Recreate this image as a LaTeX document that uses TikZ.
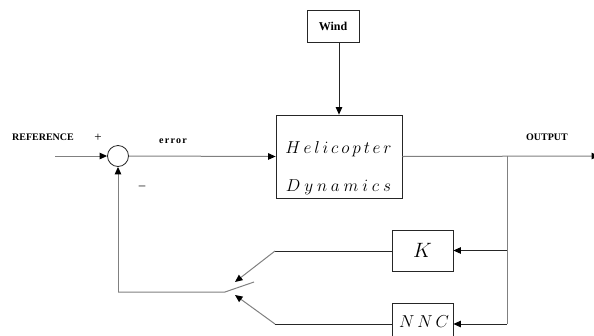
\documentclass[tikz,border=0pt]{standalone}
\usepackage{fontspec}
\setmainfont{Liberation Serif}
\usetikzlibrary{arrows.meta,calc}
\begin{document}
\begin{tikzpicture}[x=1pt,y=-1pt,
  blk/.style={draw=black!85,line width=0.8pt,rectangle,inner sep=0pt,anchor=center},
  gline/.style={draw=black!50,line width=1pt},
  bline/.style={draw=black!85,line width=0.8pt},
  tip/.style={-{Triangle[length=7.5pt,width=6.5pt,black]}},
  lbl/.style={font=\bfseries\fontsize{10}{12}\selectfont,inner sep=0pt}]
\useasboundingbox (0,0) rectangle (594,335);
\clip (0,0) rectangle (594,335);
% blocks
\node[blk,minimum width=52pt,minimum height=32pt,font=\bfseries\fontsize{12}{14}\selectfont] (wind) at (333,26) {Wind};
\node[blk,minimum width=126pt,minimum height=83pt] (heli) at (339,156.5) {};
\node[inner sep=0pt,font=\fontsize{16}{18}\selectfont] (t1) at (338.5,149) {$H\,e\,l\,i\,c\,o\,p\,t\,e\,r$};
\node[inner sep=0pt,font=\fontsize{16}{18}\selectfont] (t2) at (338.5,187) {$D\:y\:n\:a\:m\:i\:c\:s$};
\node[blk,minimum width=61pt,minimum height=41pt,font=\fontsize{21}{24}\selectfont] (K) at (422.5,250.5) {$K$};
\node[blk,minimum width=61pt,minimum height=41pt] (nnc) at (422.5,323.5) {};
\node[inner sep=0pt,font=\fontsize{16}{18}\selectfont] (nnct) at (424,322) {$N\,N\,C$};
\node[draw=black!85,line width=0.8pt,circle,minimum size=21pt,inner sep=0pt] (sum) at (118,156) {};
% coordinates
\coordinate (in) at (55,156);
\coordinate (out) at (599,156);
\coordinate (br) at (507,156);
\coordinate (brK) at (507,250.5);
\coordinate (brN) at (507,324);
\coordinate (sw) at (225,292);
\coordinate (blade) at (254,282);
\coordinate (ku) at (275,251);
\coordinate (kt) at (235,282);
\coordinate (nu) at (275,324);
\coordinate (nt) at (235,295);
\coordinate (fb) at (118,292);
% labels
\node[lbl] (ref) at (43,137) {REFERENCE};
\node[lbl] (outl) at (547,137) {OUTPUT};
\node[inner sep=0pt,font=\fontsize{13}{14}\selectfont] (plus) at (98,138) {+};
\node[inner sep=0pt,font=\bfseries\fontsize{10}{12}\selectfont] (err) at (173,141) {e\kern1.2pt r\kern1.2pt r\kern1.2pt o\kern1.2pt r};
\node[inner sep=0pt,font=\fontsize{13}{14}\selectfont] (minus) at (142,188) {–};
% connectors
\draw[gline,tip] (in) -- (sum.west);
\draw[gline,tip] (sum.east) -- (heli.west);
\draw[bline,tip] (heli.north |- wind.south) -- (heli.north);
\draw[gline,tip] (heli.east) -- (out);
\draw[gline] (br) -- (brN);
\draw[bline,tip] (brK) -- (K.east);
\draw[bline,tip] (brN) -- (brN -| nnc.east);
\draw[bline] (K.west |- ku) -- (ku);
\draw[gline,tip] (ku) -- (kt);
\draw[bline] (nu -| nnc.west) -- (nu);
\draw[gline,tip] (nu) -- (nt);
\draw[gline] (blade) -- (sw) -- (fb);
\draw[gline,tip] (fb) -- (sum.south);
\end{tikzpicture}
\end{document}
